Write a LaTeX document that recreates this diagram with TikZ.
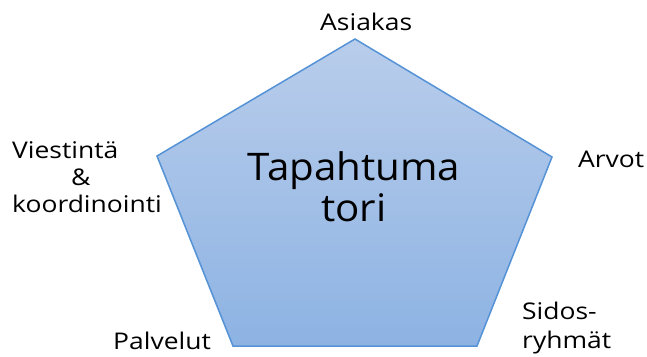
\documentclass[tikz,border=0pt]{standalone}
\usepackage{fontspec}
\newfontfamily\cornerfont[FakeStretch=1.15]{Open Sans}
\newfontfamily\centrefont[FakeStretch=1.06]{Open Sans}

\definecolor{penttop}{RGB}{185,205,235}
\definecolor{pentbot}{RGB}{141,179,227}
\definecolor{pentline}{RGB}{86,146,214}

\begin{document}
\begin{tikzpicture}
[
    x=1pt, y=-1pt,
    corner/.style={font=\cornerfont\fontsize{23}{27}\selectfont, inner sep=0pt, anchor=base west, align=left},
    centre/.style={font=\centrefont\fontsize{38}{41}\selectfont, inner sep=0pt, anchor=base, align=center},
]
\useasboundingbox (0,0) rectangle (647,356);
\coordinate (top) at (355,39);
\coordinate (right) at (552,157);
\coordinate (botright) at (477,346);
\coordinate (botleft) at (233,346);
\coordinate (left) at (157,156);

\shade[top color=penttop, bottom color=pentbot]
    (top) -- (right) -- (botright) -- (botleft) -- (left) -- cycle;
\draw[pentline, line width=1.5pt, line join=miter]
    (top) -- (right) -- (botright) -- (botleft) -- (left) -- cycle;

% base anchor of a multi-line node sits on its last line
\node [centre] (tori) at (354,221) {Tapahtuma\\tori};

\node [corner] (asiakas) at (320,30) {Asiakas};
\node [corner] (arvot) at (578,167) {Arvot};
\node [corner] (sidos) at (522,348) {Sidos-\\[2pt]ryhmät};
\node [corner] (palvelut) at (113,349) {Palvelut};
\node [corner] (viestinta) at (12,212)
    {Viestintä\\\hspace*{59pt}\&\\koordinointi};
\end{tikzpicture}
\end{document}
